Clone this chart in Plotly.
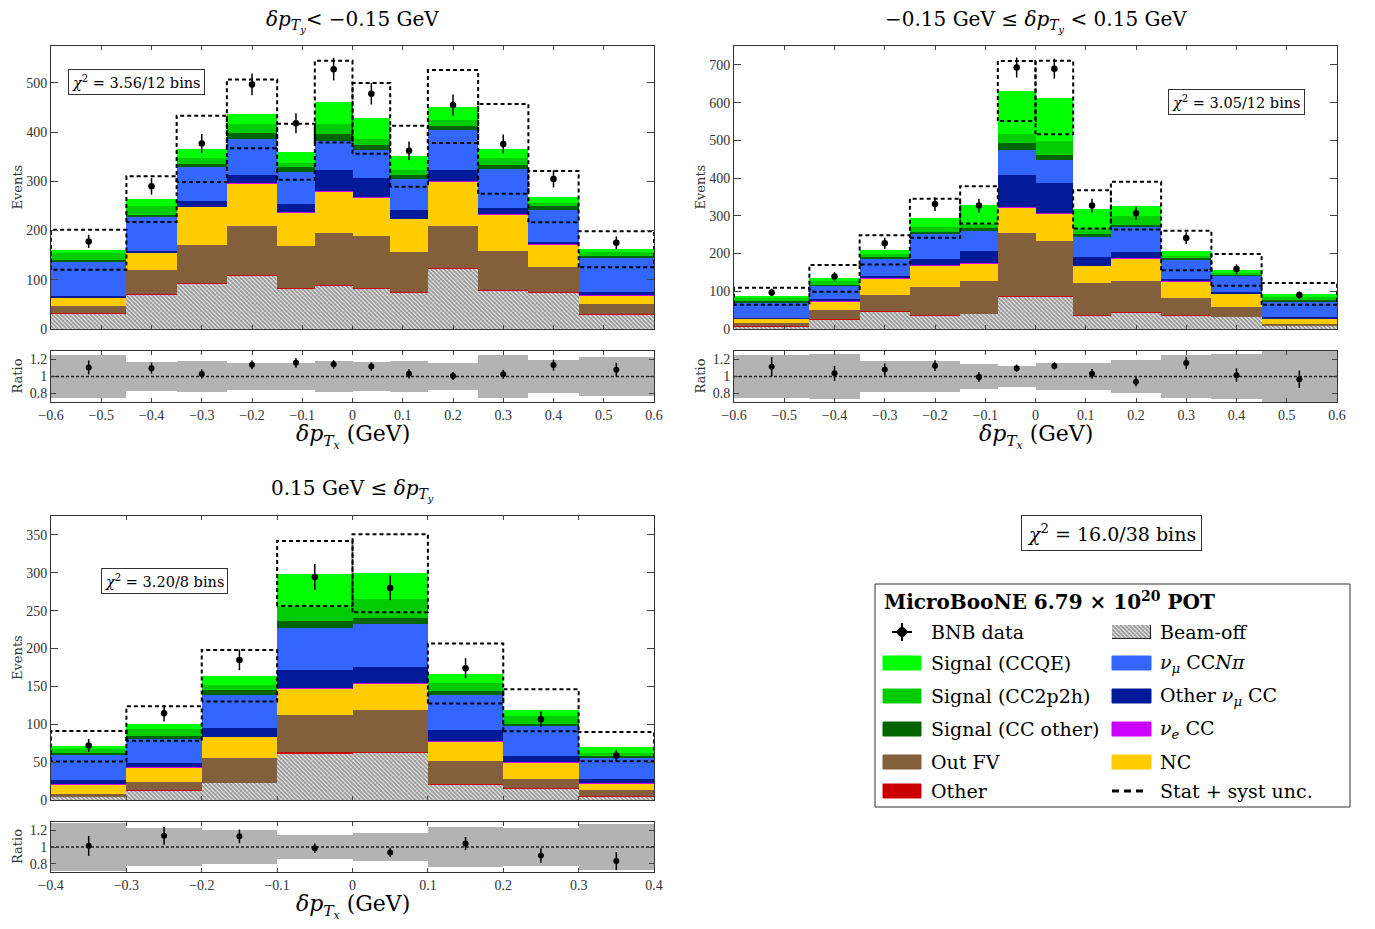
import numpy as np
import plotly.graph_objects as go

W, H = 1375, 929
OFF = 8                      # page body margin of the browser
FW, FH = W - 2 * OFF, H - 2 * OFF
FONT = "DejaVu Serif"
TICKFONT = "Liberation Serif"

# ---------------- data ----------------
edges_ab = [-0.6, -0.45, -0.35, -0.25, -0.15, -0.075, 0.0, 0.075, 0.15, 0.25, 0.35, 0.45, 0.6]
edges_c = [-0.4, -0.3, -0.2, -0.1, 0.0, 0.1, 0.2, 0.3, 0.4]

categories = ["Beam-off", "Other", "Out FV", "NC", "nue CC", "Other numu CC",
              "numu CCNpi", "Signal (CC other)", "Signal (CC2p2h)", "Signal (CCQE)"]

# panel 1: dpTy < -0.15 GeV
p1_beamoff = [32, 71, 92, 108, 82, 89, 82, 74, 122, 78, 74, 29]
p1_other = [1, 1, 1, 1.5, 1, 1, 1, 1, 1.5, 1, 1, 1]
p1_outfv = [14.5, 48, 77, 100.5, 85, 106, 105, 82, 86.5, 79, 51, 20]
p1_nc = [16.5, 35, 78, 86, 69, 84, 80, 67, 90, 75, 46, 19]
p1_nue = [0.2, 0.2, 0.2, 0.2, 0.2, 0.2, 0.2, 0.2, 0.2, 0.2, 0.2, 0.2]
p1_othnumu = [2.8, 3.8, 12.8, 15.8, 17.8, 43.8, 37.8, 16.8, 23.8, 12.8, 4.8, 5.8]
p1_ccnpi = [71, 70, 69, 75, 65, 59, 58, 64, 80, 80, 64.5, 69]
p1_ccother = [2, 3, 5, 11, 9, 14, 10, 8, 9, 8, 7.5, 5]
p1_cc2p2h = [15, 17, 12, 19, 9, 19, 13, 11, 11, 14, 8, 7]
p1_ccqe = [6, 15, 19, 20, 22, 46, 41, 27, 28, 18, 12, 6]
p1_data = [178, 290, 377, 497, 418, 528, 478, 362, 455, 376, 305, 175]
p1_unc = [40.5, 46.5, 67.5, 70, 57, 83, 72, 62, 74, 91, 52, 36.5]

# panel 2: -0.15 <= dpTy < 0.15 GeV
p2_beamoff = [7.5, 26, 46.5, 35.5, 40, 87, 87, 36.5, 43.5, 35.5, 32.5, 8.5]
p2_other = [0.5, 0.5, 0.5, 0.5, 0.7, 1.5, 1.5, 0.5, 0.5, 0.5, 0.5, 0.5]
p2_outfv = [9, 23, 44, 74, 87.3, 166.5, 145.5, 86, 84, 47, 26, 4]
p2_nc = [10, 24.5, 43, 59, 46, 68, 73, 44, 59.5, 43, 34, 14]
p2_nue = [0.2, 0.2, 0.3, 0.3, 1.5, 0.8, 0.8, 0.3, 0.3, 0.2, 0.2, 0.2]
p2_othnumu = [1.8, 5.8, 6.2, 17.2, 32.5, 83.2, 78.2, 23.7, 17.2, 6.8, 3.8, 3.8]
p2_ccnpi = [42, 35, 47, 64.5, 52, 68, 62, 54, 65, 50, 43.6, 43]
p2_ccother = [3, 2, 3.5, 7, 7, 17, 13.5, 7, 6, 4.5, 1.4, 2]
p2_cc2p2h = [7, 12, 7, 12, 12, 25, 35.5, 15, 24, 7, 6, 8]
p2_ccqe = [6, 5, 12, 23.5, 50, 114, 116.5, 50, 27, 13.5, 8.5, 9]
p2_data = [97, 139, 227, 331, 327, 693, 690, 327, 307, 241, 159, 90]
p2_unc = [22.5, 35.5, 38.75, 52, 49.5, 79.5, 97.5, 50.5, 63.5, 52.5, 42, 29]

# panel 3: 0.15 GeV <= dpTy
p3_beamoff = [4, 12.5, 22.5, 62, 63, 21, 15, 4.5]
p3_other = [0.5, 0.5, 0.5, 1, 1, 0.7, 0.5, 0.5]
p3_outfv = [4, 11.4, 32, 49.7, 54.5, 29.3, 12, 8.3]
p3_nc = [12.5, 18.6, 28.4, 34.3, 35.5, 26.6, 22.2, 8.4]
p3_nue = [0.2, 0.2, 0.2, 0.3, 0.3, 0.5, 0.2, 0.2]
p3_othnumu = [5.8, 5.8, 10.9, 24.7, 21.7, 14.6, 7.8, 6.1]
p3_ccnpi = [33, 32, 43.9, 54.7, 56.5, 46.6, 39.9, 28]
p3_ccother = [2, 3, 6.2, 10.3, 8, 4.7, 3.1, 2.6]
p3_cc2p2h = [6, 10, 7.1, 19, 24.5, 10, 10.3, 4]
p3_ccqe = [3, 7, 12.3, 43, 34.5, 13, 7.5, 7.9]
p3_data = [72, 114.5, 185, 294.6, 280, 174, 106.5, 58.6]
p3_unc = [20.2, 22.75, 34, 43, 51.5, 39.5, 27.6, 19.25]

chi2_labels = ["3.56/12 bins", "3.05/12 bins", "3.20/8 bins"]
chi2_total = "16.0/38 bins"

# ---------------- styles ----------------
colors = {
    "Beam-off": "#ffffff",
    "Other": "#cc0000",
    "Out FV": "#835f3b",
    "NC": "#ffcc00",
    "nue CC": "#cc00ff",
    "Other numu CC": "#001a99",
    "numu CCNpi": "#3366ff",
    "Signal (CC other)": "#006400",
    "Signal (CC2p2h)": "#00cc00",
    "Signal (CCQE)": "#00ff00",
}
hatch = dict(shape="\\", fgcolor="#333333", bgcolor="#ffffff", size=3, solidity=0.7)
DASH = "4px,3px"


def px_x(px):
    return (px - OFF) / FW


def px_y(py):
    return 1 - (py - OFF) / FH


TY = "<i>δp</i><sub><i>T</i><sub><i>y</i></sub></sub>"
TX = "<i>δp</i><sub><i>T</i><sub><i>x</i></sub></sub>"

panels = [
    dict(edges=edges_ab, comps=[p1_beamoff, p1_other, p1_outfv, p1_nc, p1_nue, p1_othnumu,
                                p1_ccnpi, p1_ccother, p1_cc2p2h, p1_ccqe],
         data=p1_data, unc=p1_unc, main=("x", "y"), ratio=("x2", "y2"),
         xpx=(51, 654), mainpx=(46, 329), ratiopx=(351, 402), yrange=[0, 575], dtick=100,
         chi=(136.5, 82.5), title=TY + "< −0.15 GeV", title_y=21),
    dict(edges=edges_ab, comps=[p2_beamoff, p2_other, p2_outfv, p2_nc, p2_nue, p2_othnumu,
                                p2_ccnpi, p2_ccother, p2_cc2p2h, p2_ccqe],
         data=p2_data, unc=p2_unc, main=("x3", "y3"), ratio=("x4", "y4"),
         xpx=(734, 1337), mainpx=(46, 329), ratiopx=(351, 402), yrange=[0, 750], dtick=100,
         chi=(1236.5, 102.5), title="−0.15 GeV ≤ " + TY + " < 0.15 GeV", title_y=21),
    dict(edges=edges_c, comps=[p3_beamoff, p3_other, p3_outfv, p3_nc, p3_nue, p3_othnumu,
                               p3_ccnpi, p3_ccother, p3_cc2p2h, p3_ccqe],
         data=p3_data, unc=p3_unc, main=("x5", "y5"), ratio=("x6", "y6"),
         xpx=(51, 654), mainpx=(516, 800), ratiopx=(822, 872), yrange=[0, 375], dtick=50,
         chi=(164, 580.5), title="0.15 GeV ≤ " + TY, title_y=490),
]

fig = go.Figure()
layout_axes = {}
annotations = []
shapes = []

for i, p in enumerate(panels):
    edges = np.array(p["edges"])
    centers = (edges[:-1] + edges[1:]) / 2
    widths = edges[1:] - edges[:-1]
    mx, my = p["main"]
    rx, ry = p["ratio"]
    comps = [np.array(c, dtype=float) for c in p["comps"]]
    mc = np.sum(comps, axis=0)
    data = np.array(p["data"], dtype=float)
    unc = np.array(p["unc"], dtype=float)

    for name, vals in zip(categories, comps):
        marker = dict(color=colors[name], line=dict(width=0))
        if name == "Beam-off":
            marker["pattern"] = hatch
        fig.add_trace(go.Bar(x=centers, y=vals, width=widths, marker=marker,
                             xaxis=mx, yaxis=my, showlegend=False, name=name))

    # stat + syst uncertainty boxes
    bx, by = [], []
    for j in range(len(centers)):
        lo, hi = mc[j] - unc[j], mc[j] + unc[j]
        x0, x1 = edges[j], edges[j + 1]
        bx += [x0, x0, x1, x1, x0, None]
        by += [lo, hi, hi, lo, lo, None]
    fig.add_trace(go.Scatter(x=bx, y=by, mode="lines", xaxis=mx, yaxis=my,
                             line=dict(color="black", width=2, dash=DASH),
                             showlegend=False, hoverinfo="skip"))

    # data
    fig.add_trace(go.Scatter(x=centers, y=data, mode="markers", xaxis=mx, yaxis=my,
                             marker=dict(color="black", size=6.5),
                             error_y=dict(type="data", array=np.sqrt(data), width=0,
                                          thickness=1.5, color="black"),
                             showlegend=False, name="BNB data"))

    # ratio band
    frac = unc / mc
    fig.add_trace(go.Bar(x=centers, y=2 * frac, base=1 - frac, width=widths,
                         marker=dict(color="#b3b3b3", line=dict(width=0)),
                         xaxis=rx, yaxis=ry, showlegend=False))
    fig.add_trace(go.Scatter(x=[edges[0], edges[-1]], y=[1, 1], mode="lines",
                             xaxis=rx, yaxis=ry, line=dict(color="#222", width=1.3, dash="3px,2px"),
                             showlegend=False, hoverinfo="skip"))
    fig.add_trace(go.Scatter(x=centers, y=data / mc, mode="markers", xaxis=rx, yaxis=ry,
                             marker=dict(color="black", size=6),
                             error_y=dict(type="data", array=np.sqrt(data) / mc, width=0,
                                          thickness=1.5, color="black"),
                             showlegend=False))

    xdom = [px_x(p["xpx"][0]), px_x(p["xpx"][1])]
    mdom = [px_y(p["mainpx"][1]), px_y(p["mainpx"][0])]
    rdom = [px_y(p["ratiopx"][1]), px_y(p["ratiopx"][0])]
    common = dict(showline=True, linecolor="#333", linewidth=1, mirror="ticks",
                  ticks="inside", showgrid=False, zeroline=False, automargin=False,
                  tickfont=dict(family=TICKFONT, size=14, color="#333"))
    xkey = "xaxis" if mx == "x" else "xaxis" + mx[1:]
    ykey = "yaxis" if my == "y" else "yaxis" + my[1:]
    rxkey = "xaxis" + rx[1:]
    rykey = "yaxis" + ry[1:]
    layout_axes[xkey] = dict(domain=xdom, anchor=my, range=[edges[0], edges[-1]],
                             showticklabels=False, dtick=0.1, tick0=0, ticklen=4, **common)
    layout_axes[ykey] = dict(domain=mdom, anchor=mx, range=p["yrange"], dtick=p["dtick"],
                             ticklen=7, **common)
    layout_axes[rxkey] = dict(domain=xdom, anchor=ry, range=[edges[0], edges[-1]],
                              dtick=0.1, tick0=0, ticklen=4, **common)
    layout_axes[rykey] = dict(domain=rdom, anchor=rx, range=[0.7, 1.3],
                              tickvals=[0.8, 1, 1.2], ticktext=["0.8", "1", "1.2"],
                              ticklen=5, **common)

    cx = (p["xpx"][0] + p["xpx"][1]) / 2
    # panel title
    annotations.append(dict(x=px_x(cx), y=px_y(p["title_y"]), xref="paper", yref="paper",
                            text=p["title"], showarrow=False, xanchor="center", yanchor="middle",
                            font=dict(family=FONT, size=20, color="black")))
    # x axis title
    annotations.append(dict(x=px_x(cx), y=px_y(p["ratiopx"][1] + 34), xref="paper", yref="paper",
                            text=TX + " (GeV)",
                            showarrow=False, xanchor="center", yanchor="middle",
                            font=dict(family=FONT, size=22, color="black")))
    # y titles
    annotations.append(dict(x=px_x(p["xpx"][0] - 34), y=px_y((p["mainpx"][0] + p["mainpx"][1]) / 2),
                            xref="paper", yref="paper", text="Events", textangle=-90,
                            showarrow=False, xanchor="center", yanchor="middle",
                            font=dict(family=FONT, size=13, color="#333")))
    annotations.append(dict(x=px_x(p["xpx"][0] - 34), y=px_y((p["ratiopx"][0] + p["ratiopx"][1]) / 2),
                            xref="paper", yref="paper", text="Ratio", textangle=-90,
                            showarrow=False, xanchor="center", yanchor="middle",
                            font=dict(family=FONT, size=13, color="#333")))
    # chi2 box
    annotations.append(dict(x=px_x(p["chi"][0]), y=px_y(p["chi"][1]), xref="paper", yref="paper",
                            text="<i>χ</i><sup>2</sup> = " + chi2_labels[i], showarrow=False,
                            xanchor="center", yanchor="middle", bordercolor="#333", borderwidth=1,
                            borderpad=3, bgcolor="white",
                            font=dict(family=FONT, size=14.5, color="black")))

# total chi2
annotations.append(dict(x=px_x(1111.5), y=px_y(533), xref="paper", yref="paper",
                        text="<i>χ</i><sup>2</sup> = " + chi2_total, showarrow=False,
                        xanchor="center", yanchor="middle", bordercolor="#333", borderwidth=1,
                        borderpad=5, bgcolor="white",
                        font=dict(family=FONT, size=19, color="black")))

# ---------------- manual legend ----------------
shapes.append(dict(type="rect", xref="paper", yref="paper", x0=px_x(875), x1=px_x(1350),
                   y0=px_y(807), y1=px_y(584), line=dict(color="#333", width=1),
                   fillcolor="white", layer="below"))
annotations.append(dict(x=px_x(882), y=px_y(601), xref="paper", yref="paper",
                        text="<b>MicroBooNE 6.79 × 10<sup>20</sup> POT</b>", showarrow=False,
                        xanchor="left", yanchor="middle",
                        font=dict(family=FONT, size=20, color="black")))

leg_rows = [632, 663, 696, 729, 762, 791]
col1 = ["BNB data", "Signal (CCQE)", "Signal (CC2p2h)", "Signal (CC other)", "Out FV", "Other"]
col1_labels = ["BNB data", "Signal (CCQE)", "Signal (CC2p2h)", "Signal (CC other)", "Out FV", "Other"]
col2 = ["Beam-off", "numu CCNpi", "Other numu CC", "nue CC", "NC", "unc"]
col2_labels = ["Beam-off", "<i>ν<sub>μ</sub></i> CC<i>Nπ</i>", "Other <i>ν<sub>μ</sub></i> CC",
               "<i>ν<sub>e</sub></i> CC", "NC", "Stat + syst unc."]

for (key, lab, sx0, sx1, tx) in [(col1, col1_labels, 883, 921, 929), (col2, col2_labels, 1112, 1151, 1158)]:
    for k, lb, ry_ in zip(key, lab, leg_rows):
        if k == "BNB data":
            cxp = (sx0 + sx1) / 2
            shapes.append(dict(type="line", xref="paper", yref="paper", x0=px_x(cxp - 10), x1=px_x(cxp + 10),
                               y0=px_y(ry_), y1=px_y(ry_), line=dict(color="black", width=2)))
            shapes.append(dict(type="line", xref="paper", yref="paper", x0=px_x(cxp), x1=px_x(cxp),
                               y0=px_y(ry_ - 9), y1=px_y(ry_ + 9), line=dict(color="black", width=2)))
            shapes.append(dict(type="circle", xref="paper", yref="paper", x0=px_x(cxp - 4.5), x1=px_x(cxp + 4.5),
                               y0=px_y(ry_ + 4.5), y1=px_y(ry_ - 4.5), fillcolor="black",
                               line=dict(color="black", width=1)))
        elif k == "unc":
            shapes.append(dict(type="line", xref="paper", yref="paper", x0=px_x(sx0), x1=px_x(sx1 - 4),
                               y0=px_y(ry_), y1=px_y(ry_), line=dict(color="black", width=3, dash="7px,5px")))
        elif k == "Beam-off":
            pass  # drawn as a hatched bar on a hidden axis below
        else:
            shapes.append(dict(type="rect", xref="paper", yref="paper", x0=px_x(sx0), x1=px_x(sx1),
                               y0=px_y(ry_ + 7), y1=px_y(ry_ - 7), fillcolor=colors[k],
                               line=dict(color=colors[k], width=1)))
        annotations.append(dict(x=px_x(tx), y=px_y(ry_), xref="paper", yref="paper", text=lb,
                                showarrow=False, xanchor="left", yanchor="middle",
                                font=dict(family=FONT, size=19, color="black")))

# hatched legend swatch for beam-off via a tiny bar on a hidden axis
fig.add_trace(go.Bar(x=[0.5], y=[1], width=[1], xaxis="x7", yaxis="y7",
                     marker=dict(color="white", pattern=hatch, line=dict(color="#222", width=1.5)),
                     showlegend=False, hoverinfo="skip"))
layout_axes["xaxis7"] = dict(domain=[px_x(1112), px_x(1151)], range=[0, 1], visible=False, anchor="y7")
layout_axes["yaxis7"] = dict(domain=[px_y(632 + 7), px_y(632 - 7)], range=[0, 1], visible=False, anchor="x7")

fig.update_layout(
    width=FW, height=FH, margin=dict(l=0, r=0, t=0, b=0, autoexpand=False),
    paper_bgcolor="white", plot_bgcolor="white",
    barmode="stack", bargap=0, showlegend=False,
    annotations=annotations, shapes=shapes,
    font=dict(family=FONT, color="black"),
    **layout_axes,
)

fig.write_html("out.html")
